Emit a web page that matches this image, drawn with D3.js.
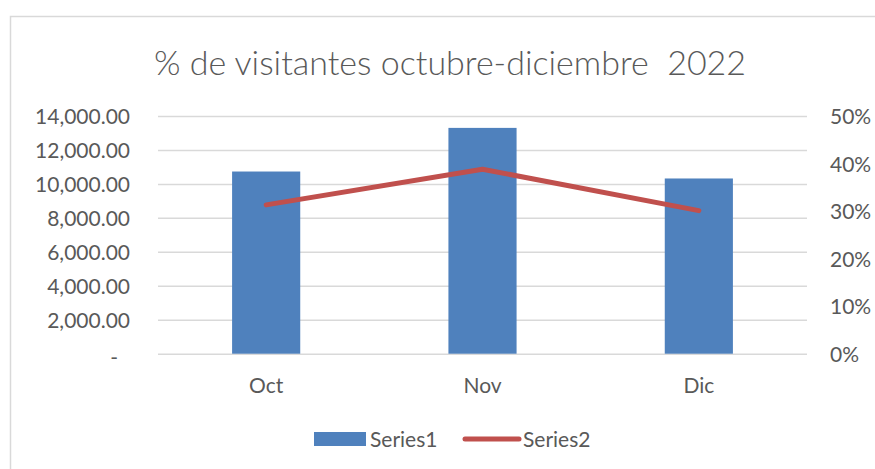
<!DOCTYPE html>
<html>
<head>
<meta charset="utf-8">
<script src="https://cdnjs.cloudflare.com/ajax/libs/d3/7.8.5/d3.min.js"></script>
<style>
  body { margin: 0; background: #fff; }
  text { font-family: Lato, "Open Sans", sans-serif; fill: #595959; }
</style>
</head>
<body>
<svg id="chart" width="875" height="469"></svg>
<script>
const months = ['Oct', 'Nov', 'Dic'];
const series1 = [10730, 13300, 10320];
const series2 = [0.313, 0.388, 0.301];
const leftTicks = [0, 2000, 4000, 6000, 8000, 10000, 12000, 14000];
const rightTicks = [0, 0.1, 0.2, 0.3, 0.4, 0.5];
const seriesNames = ['Series1', 'Series2'];
const chartTitle = '% de visitantes octubre-diciembre\u00a0\u00a02022';

const BLUE = '#4f81bd';
const RED = '#c0504d';
const GRID = '#d9d9d9';

var svg = d3.select('#chart');

// chart border (runs off the right and bottom edge like the screenshot)
svg.append('rect')
  .attr('x', 10.5)
  .attr('y', 16.5)
  .attr('width', 900)
  .attr('height', 500)
  .attr('fill', 'none')
  .attr('stroke', GRID)
  .attr('stroke-width', 1.5);

svg.append('text')
  .attr('x', 450)
  .attr('y', 75)
  .attr('text-anchor', 'middle')
  .style('font-size', '34px')
  .style('font-weight', 300)
  .text(chartTitle);

const plot = { left: 158, right: 807, top: 116, bottom: 353.7 };

const x = d3.scaleBand()
  .domain(months)
  .range([plot.left, plot.right]);

const yLeft = d3.scaleLinear()
  .domain([0, 14000])
  .range([plot.bottom, plot.top]);

const yRight = d3.scaleLinear()
  .domain([0, 0.5])
  .range([plot.bottom, plot.top]);

// left axis + gridlines
var fmt = d3.format(',.2f');
var gLeft = svg.append('g')
  .attr('transform', 'translate(' + plot.left + ',0)')
  .call(d3.axisLeft(yLeft)
    .tickValues(leftTicks)
    .tickSize(-(plot.right - plot.left))
    .tickPadding(28)
    .tickFormat(function (d) { return d === 0 ? '-' : fmt(d); }));
gLeft.select('.domain').remove();
gLeft.selectAll('.tick line')
  .attr('stroke', GRID)
  .attr('stroke-width', 1.5);
gLeft.selectAll('.tick text')
  .style('font-size', '21px')
  .style('font-family', 'Lato, sans-serif')
  .attr('fill', '#595959')
  .attr('dy', '0.36em');
// the zero label is an accounting dash, sits a bit further in
gLeft.selectAll('.tick text')
  .filter(function (d) { return d === 0; })
  .attr('x', -40)
  .attr('dy', '0.5em');

// right axis
var gRight = svg.append('g')
  .attr('transform', 'translate(' + plot.right + ',0)')
  .call(d3.axisRight(yRight)
    .tickValues(rightTicks)
    .tickSize(0)
    .tickPadding(23)
    .tickFormat(d3.format('.0%')));
gRight.select('.domain').remove();
gRight.selectAll('.tick text')
  .style('font-size', '21px')
  .style('font-family', 'Lato, sans-serif')
  .attr('fill', '#595959')
  .attr('dy', '0.36em');

// category axis
var gBottom = svg.append('g')
  .attr('transform', 'translate(0,' + plot.bottom + ')')
  .call(d3.axisBottom(x).tickSize(0).tickPadding(24));
gBottom.select('.domain').remove();
gBottom.selectAll('.tick text')
  .style('font-size', '21px')
  .style('font-family', 'Lato, sans-serif')
  .attr('fill', '#595959');

// bars
const barWidth = x.bandwidth() * 0.315;
svg.append('g')
  .selectAll('rect')
  .data(series1)
  .join('rect')
  .attr('x', function (d, i) { return x(months[i]) + x.bandwidth() / 2 - barWidth / 2; })
  .attr('y', function (d) { return yLeft(d); })
  .attr('width', barWidth)
  .attr('height', function (d) { return yLeft(0) - yLeft(d); })
  .attr('fill', BLUE);

// line on secondary axis
var line = d3.line()
  .x(function (d, i) { return x(months[i]) + x.bandwidth() / 2; })
  .y(function (d) { return yRight(d); });

svg.append('path')
  .datum(series2)
  .attr('d', line)
  .attr('fill', 'none')
  .attr('stroke', RED)
  .attr('stroke-width', 5)
  .attr('stroke-linejoin', 'round')
  .attr('stroke-linecap', 'round');

// legend
var legend = svg.append('g').attr('transform', 'translate(0,439)');
legend.append('rect')
  .attr('x', 314)
  .attr('y', -7)
  .attr('width', 52)
  .attr('height', 14)
  .attr('fill', BLUE);
legend.append('text')
  .attr('x', 370)
  .attr('dy', '0.36em')
  .style('font-size', '21px')
  .text(seriesNames[0]);
legend.append('line')
  .attr('x1', 465)
  .attr('x2', 519)
  .attr('stroke', RED)
  .attr('stroke-width', 5)
  .attr('stroke-linecap', 'round');
legend.append('text')
  .attr('x', 523)
  .attr('dy', '0.36em')
  .style('font-size', '21px')
  .text(seriesNames[1]);
</script>
</body>
</html>
